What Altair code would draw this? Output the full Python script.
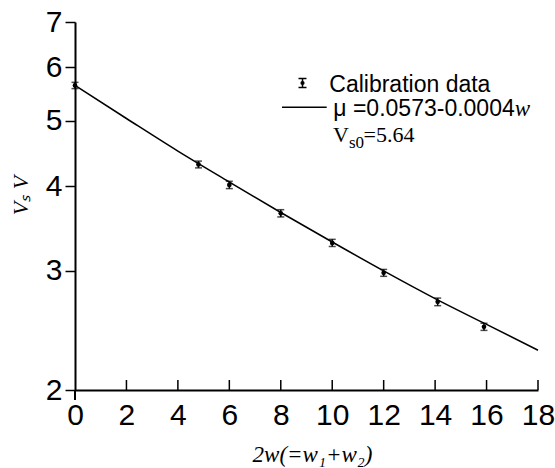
import altair as alt
import pandas as pd

# calibration data
x_data = [0, 4.8, 6, 8, 10, 12, 14.1, 15.9]
v_data = [5.64, 4.31, 4.02, 3.65, 3.30, 2.98, 2.70, 2.48]
v_err = [0.06, 0.05, 0.05, 0.045, 0.04, 0.035, 0.035, 0.03]

# fitted curve
x_fit = [0, 2, 4, 6, 8, 10, 12, 14, 16, 18]
v_fit = [5.64, 5.04, 4.51, 4.06, 3.66, 3.31, 3.00, 2.73, 2.50, 2.29]

x_ticks = [0, 2, 4, 6, 8, 10, 12, 14, 16, 18]
y_ticks = [2, 3, 4, 5, 6, 7]

W, H = 463, 368

pts = pd.DataFrame({"x": x_data, "v": v_data,
                    "lo": [v - e for v, e in zip(v_data, v_err)],
                    "hi": [v + e for v, e in zip(v_data, v_err)]})
fit = pd.DataFrame({"x": x_fit, "v": v_fit})
inner = pd.DataFrame({"x": x_ticks[1:]})
zero = pd.DataFrame({"x": [0]})
one = pd.DataFrame({"a": [0]})

xs = alt.Scale(domain=[0, 18], nice=False, zero=False)
ys = alt.Scale(type="log", domain=[2, 7], nice=False)

xaxis = alt.Axis(values=x_ticks, ticks=False, labelFontSize=30, labelFont="Liberation Sans",
                 labelColor="black", labelPadding=10, domainColor="black", domainWidth=2,
                 grid=False, title="2w(=w\u2081+w\u2082)", titleFont="Liberation Serif",
                 titleFontStyle="italic", titleFontWeight="normal", titleFontSize=23,
                 titleColor="black", titleBaseline="alphabetic", titleY=71, titleX=237,
                 labelFlush=False, labelOverlap=False)
yaxis = alt.Axis(values=y_ticks, tickSize=10, tickWidth=1.5, tickColor="black",
                 labelFontSize=30, labelFont="Liberation Sans", labelColor="black",
                 labelPadding=3, domainColor="black", domainWidth=2, grid=False,
                 title="V\u209b V", titleFont="Liberation Serif", titleFontStyle="italic",
                 titleFontWeight="normal", titleFontSize=22, titleColor="black",
                 titleBaseline="alphabetic", titleX=-48, titleY=173, titleAngle=270,
                 labelFlush=False, labelOverlap=False, format="d")

line = alt.Chart(fit).mark_line(color="black", strokeWidth=1.5, interpolate="monotone").encode(
    x=alt.X("x:Q", scale=xs, axis=xaxis),
    y=alt.Y("v:Q", scale=ys, axis=yaxis),
)
bars = alt.Chart(pts).mark_rule(color="black", strokeWidth=1.5).encode(
    x="x:Q", y="lo:Q", y2="hi:Q")
caps_lo = alt.Chart(pts).mark_tick(color="black", orient="horizontal", size=7, thickness=1.5).encode(
    x="x:Q", y="lo:Q")
caps_hi = alt.Chart(pts).mark_tick(color="black", orient="horizontal", size=7, thickness=1.5).encode(
    x="x:Q", y="hi:Q")
dots = alt.Chart(pts).mark_circle(color="black", opacity=1, size=22).encode(x="x:Q", y="v:Q")

xt = alt.Chart(inner).mark_rule(color="black", strokeWidth=1.5).encode(
    x="x:Q", y=alt.value(H), y2=alt.value(H - 10))
x0 = alt.Chart(zero).mark_rule(color="black", strokeWidth=2).encode(
    x="x:Q", y=alt.value(H), y2=alt.value(H + 10))

# legend
lx, ly = 227.5, 61
leg_bar = alt.Chart(one).mark_rule(color="black", strokeWidth=1.5).encode(
    x=alt.value(lx), y=alt.value(ly - 4.5), y2=alt.value(ly + 4.5))
leg_c1 = alt.Chart(one).mark_rule(color="black", strokeWidth=1.5).encode(
    x=alt.value(lx - 4), x2=alt.value(lx + 4), y=alt.value(ly - 4.5))
leg_c2 = alt.Chart(one).mark_rule(color="black", strokeWidth=1.5).encode(
    x=alt.value(lx - 4), x2=alt.value(lx + 4), y=alt.value(ly + 4.5))
leg_dot = alt.Chart(one).mark_circle(color="black", opacity=1, size=18).encode(
    x=alt.value(lx), y=alt.value(ly))
leg_line = alt.Chart(one).mark_rule(color="black", strokeWidth=1.5).encode(
    x=alt.value(207), x2=alt.value(251.7), y=alt.value(85.3))


def txt(s, x, y, font, size, style="normal"):
    return alt.Chart(one).mark_text(text=s, font=font, fontSize=size, fontStyle=style,
                                    align="left", baseline="alphabetic", color="black").encode(
        x=alt.value(x), y=alt.value(y))


t1 = txt("Calibration data", 254.3, 70, "Liberation Sans", 23)
t2 = txt("\u03bc =0.0573-0.0004", 258.3, 93.7, "Liberation Sans", 23)
t2w = txt("w", 439.7, 93.7, "Liberation Serif", 23, "italic")
t3 = txt("V", 258, 119.7, "Liberation Serif", 22)
t3s = txt("s0", 274, 126, "Liberation Serif", 17)
t3e = txt("=5.64", 288.5, 119.7, "Liberation Serif", 22)

chart = alt.layer(line, bars, caps_lo, caps_hi, dots, xt, x0,
                  leg_bar, leg_c1, leg_c2, leg_dot, leg_line,
                  t1, t2, t2w, t3, t3s, t3e).properties(
    width=W, height=H,
    padding={"left": 75, "top": 22, "right": 17, "bottom": 78},
    autosize=alt.AutoSizeParams(type="none"),
    background="white",
).configure_view(stroke=None)

chart.save("out.html", embed_options={"renderer": "svg", "actions": False})
